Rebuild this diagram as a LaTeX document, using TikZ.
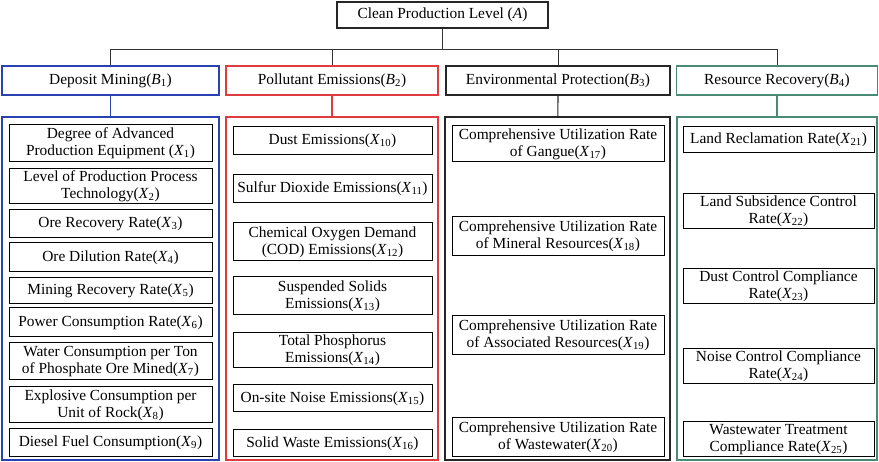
\documentclass[tikz,border=0pt]{standalone}
\usepackage{fontspec}
\setmainfont{Liberation Serif}
\usetikzlibrary{positioning}

\definecolor{minblue}{RGB}{40,66,178}
\definecolor{polred}{RGB}{224,60,64}
\definecolor{recgreen}{RGB}{72,138,118}

\newcommand{\xsub}[1]{\textit{X}\textsubscript{#1}}
\newcommand{\bsub}[1]{\textit{B}\textsubscript{#1}}

\begin{document}
\begin{tikzpicture}[x=1pt,y=-1pt,font=\fontsize{15.4}{17}\selectfont]

\tikzset{item/.style = {shape=rectangle,draw,line width=1pt,align=center,inner sep=0pt}}
\tikzset{panel/.style = {shape=rectangle,draw,line width=1.6pt,minimum height=343pt}}
\tikzset{crit/.style = {shape=rectangle,draw,line width=1.5pt,minimum height=29pt}}
\tikzset{link/.style = {line width=1pt,black!80}}

\useasboundingbox (0,0) rectangle (879,462);

% goal
\node[item,line width=1.2pt,draw=black!85,minimum width=211pt,minimum height=26pt] (A) at (442.5,15) {Clean Production Level (\textit{A})};

% criteria
\node[crit,draw=minblue,minimum width=217pt] (B1) at (110.5,80.5) {Deposit Mining(\bsub{1})};
\node[crit,draw=polred,minimum width=212pt] (B2) at (332,80.5) {Pollutant Emissions(\bsub{2})};
\node[crit,draw=black!85,line width=1.1pt,minimum width=224pt] (B3) at (558,80.5) {Environmental Protection(\bsub{3})};
\node[crit,draw=recgreen,minimum width=201pt] (B4) at (777,80.5) {Resource Recovery(\bsub{4})};

\coordinate (bus) at (442.5,50);
\draw[link] (A.south) -- (A.south |- bus);
\draw[link] (B1.north) -- (B1.north |- bus) -| (B4.north);
\draw[link] (B2.north) -- (B2.north |- bus);
\draw[link] (B3.north) -- (B3.north |- bus);

% panels
\node[panel,draw=minblue,minimum width=217pt] (P1) at (110.5,288.5) {};
\node[panel,draw=polred,minimum width=212pt] (P2) at (332,288.5) {};
\node[panel,draw=black!85,line width=1.1pt,minimum width=225pt] (P3) at (557.5,288.5) {};
\node[panel,draw=recgreen,minimum width=200pt] (P4) at (777,288.5) {};

\draw[line width=1.4pt,minblue] (B1) -- (P1);
\draw[line width=1.4pt,polred] (B2) -- (P2);
\draw[line width=1.1pt,black!85] (B3) -- (P3);
\draw[line width=1.4pt,recgreen] (B4) -- (P4);

% deposit mining
\tikzset{item/.append style = {minimum width=203pt}}
\node[item,minimum height=37pt] (x1) at (110.5,143.5) {Degree of Advanced\\Production Equipment (\xsub{1})};
\node[item,minimum height=35pt] (x2) at (110.5,186.5) {Level of Production Process\\Technology(\xsub{2})};
\node[item,minimum height=28pt] (x3) at (110.5,224) {Ore Recovery Rate(\xsub{3})};
\node[item,minimum height=29pt] (x4) at (110.5,257.5) {Ore Dilution Rate(\xsub{4})};
\node[item,minimum height=26pt] (x5) at (110.5,291) {Mining Recovery Rate(\xsub{5})};
\node[item,minimum height=29pt] (x6) at (110.5,322.5) {Power Consumption Rate(\xsub{6})};
\node[item,minimum height=37pt] (x7) at (110.5,361.5) {Water Consumption per Ton\\of Phosphate Ore Mined(\xsub{7})};
\node[item,minimum height=36pt] (x8) at (110.5,405) {Explosive Consumption per\\Unit of Rock(\xsub{8})};
\node[item,minimum height=28pt] (x9) at (110.5,443) {Diesel Fuel Consumption(\xsub{9})};

% pollutant emissions
\tikzset{item/.append style = {minimum width=199pt}}
\node[item,minimum height=28pt] (x10) at (332.5,141) {Dust Emissions(\xsub{10})};
\node[item,minimum height=28pt] (x11) at (332.5,189) {Sulfur Dioxide Emissions(\xsub{11})};
\node[item,minimum height=38pt] (x12) at (332.5,242) {Chemical Oxygen Demand\\(COD) Emissions(\xsub{12})};
\node[item,minimum height=38pt] (x13) at (332.5,296) {Suspended Solids\\Emissions(\xsub{13})};
\node[item,minimum height=35pt] (x14) at (332.5,350.5) {Total Phosphorus\\Emissions(\xsub{14})};
\node[item,minimum height=27pt] (x15) at (332.5,398.5) {On-site Noise Emissions(\xsub{15})};
\node[item,minimum height=27pt] (x16) at (332.5,443.5) {Solid Waste Emissions(\xsub{16})};

% environmental protection
\tikzset{item/.append style = {minimum width=212pt}}
\node[item,minimum height=36pt] (x17) at (558,144) {Comprehensive Utilization Rate\\of Gangue(\xsub{17})};
\node[item,minimum height=39pt] (x18) at (558,236.5) {Comprehensive Utilization Rate\\of Mineral Resources(\xsub{18})};
\node[item,minimum height=39pt] (x19) at (558,335.5) {Comprehensive Utilization Rate\\of Associated Resources(\xsub{19})};
\node[item,minimum height=39pt] (x20) at (558,437.5) {Comprehensive Utilization Rate\\of Wastewater(\xsub{20})};

% resource recovery
\tikzset{item/.append style = {minimum width=191pt}}
\node[item,minimum height=26pt] (x21) at (778.5,140) {Land Reclamation Rate(\xsub{21})};
\node[item,minimum height=35pt] (x22) at (778.5,211.5) {Land Subsidence Control\\Rate(\xsub{22})};
\node[item,minimum height=35pt] (x23) at (778.5,286.5) {Dust Control Compliance\\Rate(\xsub{23})};
\node[item,minimum height=35pt] (x24) at (778.5,366.5) {Noise Control Compliance\\Rate(\xsub{24})};
\node[item,minimum height=35pt] (x25) at (778.5,439.5) {Wastewater Treatment\\Compliance Rate(\xsub{25})};

\end{tikzpicture}
\end{document}
